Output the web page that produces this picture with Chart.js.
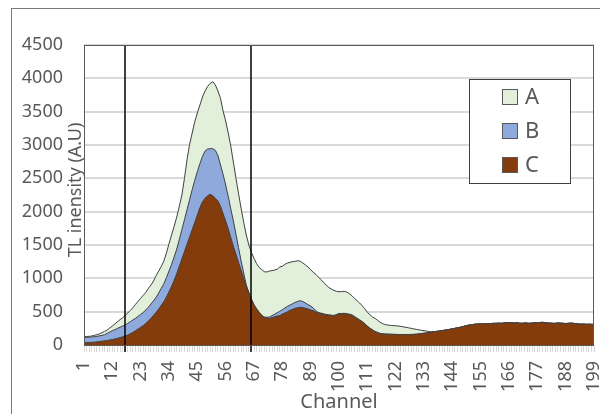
<!DOCTYPE html>
<html><head><meta charset="utf-8">
<script src="https://cdn.jsdelivr.net/npm/chart.js@4.4.0/dist/chart.umd.min.js"></script>
<style>html,body{margin:0;padding:0;background:#fff;}#wrap{width:600px;height:414px;position:relative}</style>
</head><body><div id="wrap"><canvas id="c" width="600" height="414"></canvas></div>
<script>
const CHANNELS = [];
for (let i = 1; i <= 199; i++) CHANNELS.push(i);
const TICK_LABELS = [1,12,23,34,45,56,67,78,89,100,111,122,133,144,155,166,177,188,199];
const SERIES_NAMES = ['A','B','C'];
const MARKER_CHANNELS = [17, 66];
const Y_TITLE = 'TL inensity (A.U)';
const X_TITLE = 'Channel';

const A = [
125,128,130,135,145,155,168,185,205,225,
255,285,315,350,380,410,445,480,520,560,
610,655,700,745,790,850,900,960,1040,1110,
1180,1260,1380,1520,1650,1780,1920,2080,2250,2500,
2780,3010,3180,3350,3480,3600,3720,3810,3880,3925,
3950,3900,3810,3700,3510,3360,3180,2980,2740,2500,
2270,2050,1840,1650,1500,1390,1300,1220,1165,1130,
1100,1095,1110,1115,1125,1135,1170,1180,1210,1230,
1240,1250,1255,1265,1255,1230,1200,1170,1130,1090,
1060,1020,980,940,900,865,840,820,805,800,
800,805,795,770,740,700,665,630,590,545,
490,455,420,400,370,340,320,305,300,295,
290,290,285,280,272,265,258,250,242,235,
228,220,215,210,200,196,200,205,210,215,
222,228,235,242,250,258,265,275,285,295,
302,308,312,315,316,318,320,318,322,325,
325,328,325,330,332,335,333,330,335,328,
325,330,328,325,330,335,332,338,340,335,
330,328,325,325,330,328,325,322,325,328,
325,320,315,312,315,310,312,310,310
];
const B = [
115,115,118,120,125,130,138,145,155,175,
195,215,230,250,265,285,300,325,350,375,
400,430,460,490,525,565,615,665,715,780,
850,920,1010,1110,1210,1320,1440,1580,1730,1880,
2030,2180,2330,2470,2600,2720,2830,2910,2940,2945,
2945,2920,2840,2700,2560,2400,2230,2040,1860,1660,
1460,1260,1080,900,790,690,605,545,493,445,
420,415,420,440,462,485,505,530,555,580,
600,620,640,655,665,650,630,605,585,555,
515,488,478,468,458,453,448,443,458,473,
473,476,470,463,453,428,403,378,353,323,
283,253,228,203,188,173,168,165,163,163,
161,160,158,158,158,158,158,159,161,163,
168,173,178,183,190,196,200,205,210,215,
222,228,235,242,250,258,265,275,285,295,
302,308,312,315,316,318,320,318,322,325,
325,328,325,330,332,335,333,330,335,328,
325,330,328,325,330,335,332,338,340,335,
330,328,325,325,330,328,325,322,325,328,
325,320,315,312,315,310,312,310,310
];
const C = [
35,36,38,40,43,47,52,57,62,68,
75,82,90,100,110,122,135,150,168,190,
215,240,265,292,325,360,400,445,490,540,
595,650,720,800,880,970,1070,1180,1290,1400,
1510,1620,1730,1840,1950,2060,2150,2200,2240,2260,
2240,2200,2160,2080,1970,1860,1740,1610,1480,1360,
1240,1120,1000,880,780,680,600,540,490,440,
415,405,400,410,425,435,440,465,480,500,
520,535,550,560,565,560,552,540,525,515,
495,480,470,460,450,445,440,435,450,465,
465,468,462,455,445,420,395,370,345,315,
280,250,225,200,185,170,165,162,160,160,
158,157,155,155,155,155,155,156,158,160,
165,170,175,180,188,195,200,205,210,215,
222,228,235,242,250,258,265,275,285,295,
302,308,312,315,316,318,320,318,322,325,
325,328,325,330,332,335,333,330,335,328,
325,330,328,325,330,335,332,338,340,335,
330,328,325,325,330,328,325,322,325,328,
325,320,315,312,315,310,312,310,310
];

const FILLS = ['#E2EFDA', '#8EA9DB', '#843C0C'];
const OUTLINE = '#404040';
const TEXT = '#595959';
const FONT = "'Noto Sans', sans-serif";

const framePlugin = {
  id: 'frame',
  beforeDraw(chart) {
    const ctx = chart.ctx;
    ctx.save();
    ctx.fillStyle = '#fff';
    ctx.fillRect(0, 0, chart.width, chart.height);
    ctx.strokeStyle = '#7a7a7a';
    ctx.lineWidth = 1;
    ctx.strokeRect(11.5, 8.5, 620, 430);
    ctx.restore();
  },
  afterDatasetsDraw(chart) {
    const ctx = chart.ctx, a = chart.chartArea, xs = chart.scales.x;
    ctx.save();
    ctx.strokeStyle = '#000';
    ctx.lineWidth = 1.5;
    MARKER_CHANNELS.forEach(ch => {
      const px = Math.round(xs.getPixelForValue(CHANNELS.indexOf(ch)));
      ctx.beginPath();
      ctx.moveTo(px, a.top);
      ctx.lineTo(px, a.bottom + 7);
      ctx.stroke();
    });
    ctx.strokeStyle = '#595959';
    ctx.lineWidth = 1;
    ctx.strokeRect(Math.round(a.left) + 0.5, Math.round(a.top) + 0.5,
                   Math.round(a.right - a.left) - 1, Math.round(a.bottom - a.top));
    ctx.restore();
  },
  afterDraw(chart) {
    const ctx = chart.ctx;
    ctx.save();
    ctx.translate(76, 190);
    ctx.rotate(-Math.PI / 2);
    ctx.fillStyle = TEXT;
    ctx.font = '18px ' + FONT;
    ctx.textAlign = 'center';
    ctx.textBaseline = 'middle';
    ctx.fillText(Y_TITLE, 0, 0);
    ctx.restore();
    ctx.save();
    ctx.fillStyle = '#fff';
    ctx.fillRect(470, 80, 100, 103);
    ctx.strokeStyle = '#404040';
    ctx.lineWidth = 1;
    ctx.strokeRect(469.5, 79.5, 101, 104);
    SERIES_NAMES.forEach((name, i) => {
      const cy = 97 + i * 34;
      ctx.fillStyle = FILLS[i];
      ctx.fillRect(502, cy - 8, 16, 16);
      ctx.strokeStyle = '#595959';
      ctx.strokeRect(502.5, cy - 7.5, 15, 15);
      ctx.fillStyle = TEXT;
      ctx.font = '22px ' + FONT;
      ctx.textAlign = 'left';
      ctx.textBaseline = 'middle';
      ctx.fillText(name, 525, cy + 1);
    });
    ctx.restore();
  }
};

const seriesData = [A, B, C];
const datasets = SERIES_NAMES.map((name, i) => ({
  label: name,
  data: seriesData[i],
  backgroundColor: FILLS[i],
  borderColor: OUTLINE,
  borderWidth: 1,
  pointRadius: 0,
  tension: 0,
  fill: 'origin',
  order: 3 - i
}));

new Chart(document.getElementById('c'), {
  type: 'line',
  data: { labels: CHANNELS, datasets },
  options: {
    responsive: false,
    animation: false,
    devicePixelRatio: 1,
    layout: { padding: { top: 45, right: 6, bottom: 0, left: 0 } },
    plugins: { legend: { display: false }, tooltip: { enabled: false } },
    scales: {
      x: {
        type: 'category',
        offset: false,
        grid: { display: true, drawOnChartArea: false, drawTicks: true, tickLength: 7, color: '#d9d9d9', lineWidth: 1 },
        border: { display: false },
        ticks: {
          autoSkip: false, maxRotation: 90, minRotation: 90, padding: 9,
          color: TEXT, font: { family: FONT, size: 18 },
          callback: (v, i) => TICK_LABELS.includes(CHANNELS[i]) ? String(CHANNELS[i]) : ''
        },
        title: { display: true, text: X_TITLE, color: TEXT, font: { family: FONT, size: 20 }, padding: { top: 0, bottom: 0 } },
        afterFit: s => { s.height = 69; s.paddingLeft = 0; s.paddingRight = 0; }
      },
      y: {
        min: 0, max: 4500,
        grid: { color: '#d9d9d9', lineWidth: 2, drawTicks: false },
        border: { display: false },
        ticks: { stepSize: 500, padding: 21, color: TEXT, font: { family: FONT, size: 18 },
                 callback: v => String(v) },
        afterFit: s => { s.width = 84; }
      }
    }
  },
  plugins: [framePlugin]
});
</script>
</body></html>
